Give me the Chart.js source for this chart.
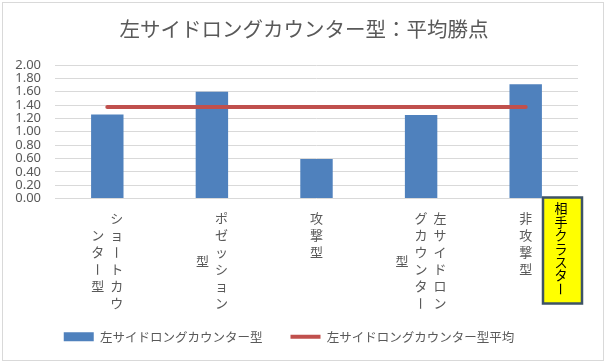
<!DOCTYPE html>
<html>
<head>
<meta charset="utf-8">
<script src="https://cdn.jsdelivr.net/npm/chart.js@4"></script>
<style>
  html, body { margin: 0; padding: 0; background: #fff; }
  #wrap { position: relative; width: 608px; height: 363px; }
  #frame { position: absolute; left: 2px; top: 2px; width: 600px; height: 357px; border: 1px solid #d9d9d9; }
  #chart { position: absolute; left: 0; top: 0; }
</style>
</head>
<body>
<div id="wrap">
  <div id="frame"></div>
  <canvas id="chart" width="608" height="363"></canvas>
</div>
<script>
const categories = ['ショートカウンター型', 'ポゼッション型', '攻撃型', '左サイドロングカウンター型', '非攻撃型'];
const points = [1.26, 1.60, 0.59, 1.25, 1.71];
const average = [1.37, 1.37, 1.37, 1.37, 1.37];
const yTicks = [0, 0.2, 0.4, 0.6, 0.8, 1.0, 1.2, 1.4, 1.6, 1.8, 2.0];
const titleText = '左サイドロングカウンター型：平均勝点';
const barLabel = '左サイドロングカウンター型';
const lineLabel = '左サイドロングカウンター型平均';
const noteText = '相手クラスター';

const GRAY = '#595959';
const CJK = '"Noto Sans CJK JP", "Noto Sans", sans-serif';

// draw one column of upright characters, rotating the long vowel mark
function drawVertical(ctx, text, x, y, step) {
  [...text].forEach((ch, i) => {
    const cy = y + i * step;
    if (ch === 'ー') {
      ctx.save();
      ctx.translate(x, cy);
      ctx.rotate(Math.PI / 2);
      ctx.fillText(ch, 0, 0);
      ctx.restore();
    } else {
      ctx.fillText(ch, x, cy);
    }
  });
}

const decorations = {
  id: 'decorations',
  afterDraw(chart) {
    const { ctx, chartArea, scales: { x } } = chart;
    ctx.save();
    ctx.textAlign = 'center';
    ctx.textBaseline = 'middle';

    // title, centred on the whole picture
    ctx.fillStyle = GRAY;
    ctx.font = '20.5px ' + CJK;
    ctx.fillText(titleText, chart.width / 2, 29);

    // category labels, written vertically in columns of six
    ctx.font = '13px ' + CJK;
    const perCol = 6, step = 17, colGap = 19;
    categories.forEach((label, i) => {
      const cols = [];
      for (let k = 0; k < label.length; k += perCol) cols.push(label.slice(k, k + perCol));
      const cx = x.getPixelForValue(i);
      const longest = Math.max(...cols.map(c => c.length));
      cols.forEach((col, c) => {
        const colX = cx + ((cols.length - 1) / 2 - c) * colGap;
        const top = chartArea.bottom + 20 + (longest - col.length) * step / 2;
        drawVertical(ctx, col, colX, top, step);
      });
    });

    // yellow note box
    const bx = chartArea.right - 35, by = chartArea.bottom - 1, bw = 39, bh = 106;
    ctx.fillStyle = '#ffff00';
    ctx.fillRect(bx, by, bw, bh);
    ctx.strokeStyle = '#3e5366';
    ctx.lineWidth = 2.5;
    ctx.strokeRect(bx, by, bw, bh);
    ctx.fillStyle = '#000';
    drawVertical(ctx, noteText, bx + 18, by + 11, 13.4);
    ctx.restore();
  }
};

new Chart(document.getElementById('chart'), {
  data: {
    labels: categories,
    datasets: [
      {
        type: 'line', label: lineLabel, data: average,
        borderColor: '#c0504d', backgroundColor: '#c0504d', borderWidth: 4,
        borderCapStyle: 'round', pointRadius: 0, pointStyle: 'line', order: 0
      },
      {
        type: 'bar', label: barLabel, data: points,
        backgroundColor: '#4f81bd', borderWidth: 0, pointStyle: 'rect',
        categoryPercentage: 1, barPercentage: 0.31, order: 1
      }
    ]
  },
  options: {
    responsive: false,
    animation: false,
    layout: { padding: { left: 0, right: 30, top: 65, bottom: 10 } },
    plugins: {
      title: { display: false },
      legend: {
        position: 'bottom',
        reverse: true,
        labels: {
          color: GRAY, font: { family: CJK, size: 12.5 },
          usePointStyle: true, pointStyleWidth: 30, boxHeight: 9, padding: 28
        }
      },
      tooltip: { enabled: false }
    },
    scales: {
      x: {
        grid: { display: false },
        border: { display: false },
        ticks: { display: false },
        afterFit(scale) { scale.height = 104; }
      },
      y: {
        min: 0, max: 2,
        afterBuildTicks(scale) { scale.ticks = yTicks.map(v => ({ value: v })); },
        afterFit(scale) { scale.width = 55; },
        grid: { color: '#d9d9d9', drawTicks: false },
        border: { display: false },
        ticks: {
          color: GRAY, padding: 14, autoSkip: false,
          font: { family: '"Noto Sans", sans-serif', size: 13 },
          callback: v => Number(v).toFixed(2)
        }
      }
    }
  },
  plugins: [decorations]
});
</script>
</body>
</html>
